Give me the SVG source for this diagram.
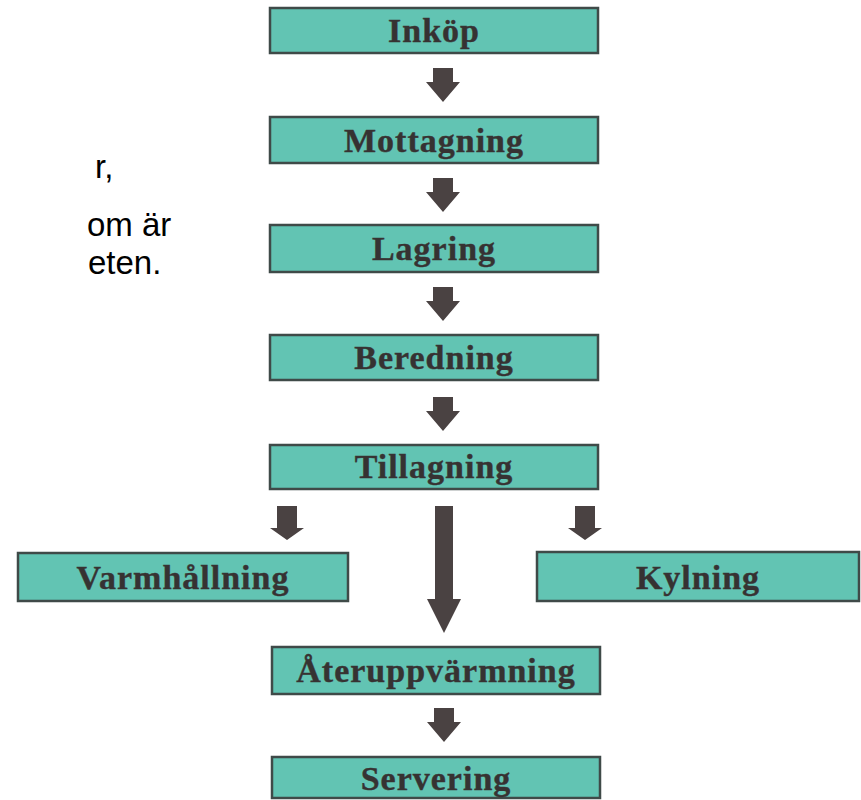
<svg xmlns="http://www.w3.org/2000/svg" width="861" height="800" viewBox="0 0 861 800">
<style>
.box{fill:#62c4b3;stroke:#3f4a48;stroke-width:2.5}
.lbl{font-family:"Liberation Serif","Times New Roman",serif;font-weight:bold;font-size:34px;fill:#363232;text-anchor:middle;letter-spacing:1px;stroke:#3a3535;stroke-width:0.4}
.arr{fill:#4a4242}
.side{font-family:"Liberation Sans",Arial,sans-serif;font-size:33px;fill:#000}
</style>
<rect width="861" height="800" fill="#ffffff"/>
<g id="slide-text">
<text class="side" x="95" y="178">r,</text>
<text class="side" x="87" y="236">om är</text>
<text class="side" x="88" y="274">eten.</text>
</g>
<g id="connectors">
<polygon class="arr" points="433,68 453,68 453,82 460,82 443,102 426,82 433,82"/>
<polygon class="arr" points="433,178 453,178 453,192 460,192 443,212 426,192 433,192"/>
<polygon class="arr" points="433,287 453,287 453,301 460,301 443,321 426,301 433,301"/>
<polygon class="arr" points="433,397 453,397 453,411 460,411 443,431 426,411 433,411"/>
<polygon class="arr" points="277,506 297,506 297,528 304,528 287,540 270,528 277,528"/>
<polygon class="arr" points="575,506 595,506 595,528 602,528 585,540 568,528 575,528"/>
<polygon class="arr" points="435,506 453,506 453,599 461,599 444,633 427,599 435,599"/>
<polygon class="arr" points="434,708 454,708 454,722 461,722 444,742 427,722 434,722"/>
</g>
<g id="inkop"><rect class="box" x="270" y="8" width="328" height="45"/><text class="lbl" x="434" y="42">Inköp</text></g>
<g id="mottagning"><rect class="box" x="270" y="117" width="328" height="46"/><text class="lbl" x="434" y="152">Mottagning</text></g>
<g id="lagring"><rect class="box" x="270" y="225" width="328" height="47"/><text class="lbl" x="434" y="260">Lagring</text></g>
<g id="beredning"><rect class="box" x="270" y="335" width="328" height="45"/><text class="lbl" x="434" y="369">Beredning</text></g>
<g id="tillagning"><rect class="box" x="270" y="445" width="328" height="44"/><text class="lbl" x="434" y="478">Tillagning</text></g>
<g id="varmhallning"><rect class="box" x="18" y="553" width="330" height="48"/><text class="lbl" x="183" y="589">Varmhållning</text></g>
<g id="kylning"><rect class="box" x="537" y="552" width="322" height="49"/><text class="lbl" x="698" y="589">Kylning</text></g>
<g id="ateruppvarmning"><rect class="box" x="272" y="647" width="328" height="47"/><text class="lbl" x="436" y="682">Återuppvärmning</text></g>
<g id="servering"><rect class="box" x="272" y="757" width="328" height="41"/><text class="lbl" x="436" y="790">Servering</text></g>
</svg>
